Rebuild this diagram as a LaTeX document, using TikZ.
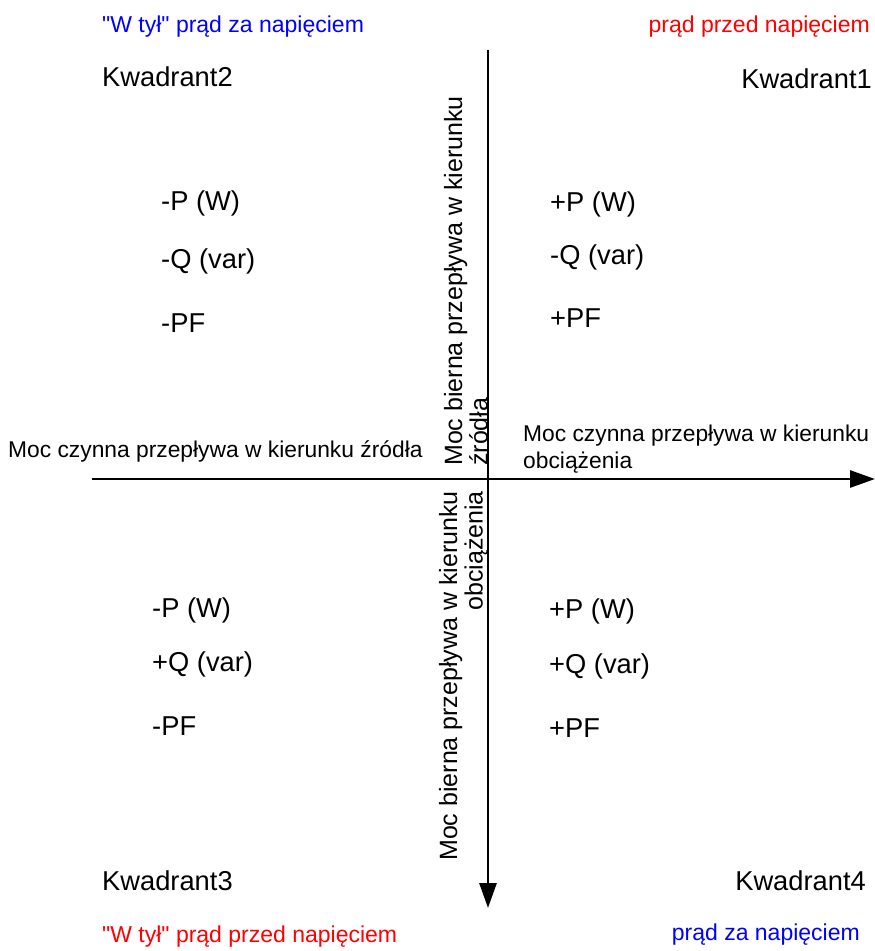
\documentclass[tikz,border=0pt]{standalone}
\usepackage{fontspec}
\setmainfont{Liberation Sans}
\usetikzlibrary{arrows.meta,positioning}
\begin{document}
\begin{tikzpicture}[
  x=1pt, y=-1pt,
  >={Triangle[length=25pt, width=17pt]},
  axis/.style={->, line width=2.8pt, draw=black},
  quad/.style={inner sep=0pt, font=\fontsize{27.3}{32}\selectfont},
  val/.style={inner sep=0pt, anchor=base west, font=\fontsize{27.3}{32}\selectfont},
  lag/.style={inner sep=0pt, text=blue, font=\fontsize{23}{28}\selectfont},
  lead/.style={inner sep=0pt, text=red, font=\fontsize{23}{28}\selectfont},
  flow/.style={inner sep=0pt, align=left, font=\fontsize{22.8}{27}\selectfont},
  vflow/.style={inner sep=0pt, rotate=90, font=\fontsize{25}{25.5}\selectfont},
]
\useasboundingbox (0,0) rectangle (875,951);

% axes
\coordinate (pl) at (92,479);
\coordinate (pr) at (875,479);
\coordinate (qt) at (488,50);
\coordinate (qb) at (488,908);
\draw[axis] (pl) -- (pr);
\draw[axis] (qt) -- (qb);

% headers
\node[lag, anchor=base west]  (hq2) at (102,32)  {\textquotedbl W tył\textquotedbl{} prąd za napięciem};
\node[lead, anchor=base east] (hq1) at (870,32)  {prąd przed napięciem};
\node[lead, anchor=base west] (hq3) at (102,942) {\textquotedbl W tył\textquotedbl{} prąd przed napięciem};
\node[lag, anchor=base east]  (hq4) at (860,940) {prąd za napięciem};

% quadrant names
\node[quad, anchor=base west] (k2) at (102,86)  {Kwadrant2};
\node[quad, anchor=base east] (k1) at (872,88)  {Kwadrant1};
\node[quad, anchor=base west] (k3) at (102,890) {Kwadrant3};
\node[quad, anchor=base east] (k4) at (866,890) {Kwadrant4};

% quadrant values
\node[val] (q2p) at (161,210) {-P (W)};
\node[val] (q2q) at (161,268) {-Q (var)};
\node[val] (q2f) at (161,332) {-PF};
\node[val] (q1p) at (550,211) {+P (W)};
\node[val] (q1q) at (550,264) {-Q (var)};
\node[val] (q1f) at (550,327) {+PF};
\node[val] (q3p) at (152,617) {-P (W)};
\node[val] (q3q) at (152,671) {+Q (var)};
\node[val] (q3f) at (152,735) {-PF};
\node[val] (q4p) at (549,618) {+P (W)};
\node[val] (q4q) at (549,673) {+Q (var)};
\node[val] (q4f) at (549,737) {+PF};

% axis labels
\node[flow, anchor=base west]  (src)  at (8,457)   {Moc czynna przepływa w kierunku źródła};
\node[flow, anchor=north west] (load) at (523,425) {Moc czynna przepływa w kierunku\\obciążenia};
\node[vflow, align=left, anchor=south west]  (rsrc)  at (488,466) {Moc bierna przepływa w kierunku\\źródła};
\node[vflow, align=right, anchor=south east] (rload) at (488,491) {Moc bierna przepływa w kierunku\\obciążenia};

\end{tikzpicture}
\end{document}
